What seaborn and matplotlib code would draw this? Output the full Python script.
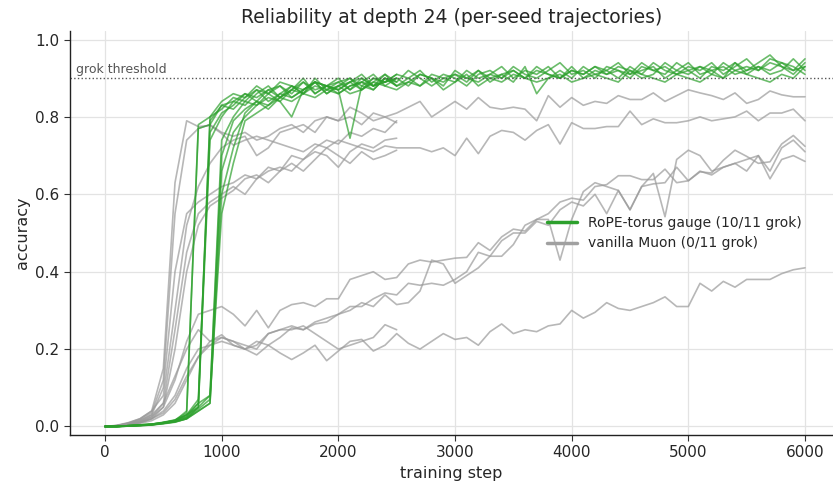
import matplotlib
matplotlib.use("Agg")
import matplotlib.pyplot as plt
from matplotlib.lines import Line2D
import seaborn as sns
import pandas as pd

# ---------------- data ----------------
steps_long = list(range(0, 6001, 100))
steps_short = list(range(0, 2501, 100))

# RoPE-torus gauge seeds running to 6000 steps
rope_1 = [0, 0, 0.002, 0.004, 0.006, 0.01, 0.015, 0.04, 0.77, 0.78,
          0.83, 0.84, 0.86, 0.85, 0.87, 0.88, 0.86, 0.89, 0.87, 0.88,
          0.89, 0.87, 0.90, 0.88, 0.89, 0.91, 0.90, 0.88, 0.91, 0.90,
          0.89, 0.92, 0.90, 0.91, 0.93, 0.90, 0.92, 0.91, 0.93, 0.90,
          0.92, 0.91, 0.93, 0.92, 0.90, 0.93, 0.91, 0.94, 0.92, 0.91,
          0.93, 0.92, 0.94, 0.91, 0.93, 0.95, 0.92, 0.94, 0.93, 0.91,
          0.94]
rope_2 = [0, 0, 0.001, 0.003, 0.005, 0.008, 0.012, 0.02, 0.05, 0.74,
          0.80, 0.84, 0.83, 0.86, 0.88, 0.85, 0.87, 0.90, 0.86, 0.88,
          0.87, 0.89, 0.91, 0.88, 0.90, 0.89, 0.92, 0.90, 0.88, 0.90,
          0.91, 0.89, 0.92, 0.90, 0.91, 0.89, 0.93, 0.86, 0.90, 0.92,
          0.90, 0.93, 0.91, 0.92, 0.94, 0.91, 0.92, 0.93, 0.90, 0.92,
          0.94, 0.91, 0.92, 0.93, 0.91, 0.92, 0.94, 0.96, 0.93, 0.92,
          0.95]
rope_3 = [0, 0, 0.002, 0.003, 0.004, 0.009, 0.014, 0.025, 0.06, 0.08,
          0.70, 0.79, 0.82, 0.84, 0.83, 0.86, 0.85, 0.87, 0.89, 0.86,
          0.88, 0.90, 0.87, 0.89, 0.91, 0.88, 0.90, 0.92, 0.89, 0.91,
          0.90, 0.88, 0.91, 0.92, 0.90, 0.93, 0.91, 0.90, 0.92, 0.94,
          0.91, 0.92, 0.90, 0.93, 0.92, 0.91, 0.94, 0.92, 0.93, 0.91,
          0.92, 0.93, 0.91, 0.94, 0.92, 0.93, 0.92, 0.95, 0.94, 0.92,
          0.93]
rope_4 = [0, 0, 0.001, 0.002, 0.004, 0.007, 0.011, 0.02, 0.04, 0.06,
          0.66, 0.76, 0.80, 0.83, 0.85, 0.84, 0.87, 0.86, 0.88, 0.87,
          0.86, 0.88, 0.89, 0.87, 0.90, 0.88, 0.89, 0.91, 0.90, 0.88,
          0.92, 0.90, 0.89, 0.91, 0.90, 0.92, 0.90, 0.92, 0.91, 0.90,
          0.93, 0.90, 0.92, 0.91, 0.93, 0.92, 0.90, 0.91, 0.94, 0.92,
          0.91, 0.93, 0.92, 0.90, 0.94, 0.92, 0.93, 0.91, 0.92, 0.95,
          0.92]
rope_5 = [0, 0, 0.002, 0.004, 0.006, 0.01, 0.016, 0.03, 0.05, 0.80,
          0.82, 0.85, 0.84, 0.87, 0.86, 0.89, 0.88, 0.86, 0.89, 0.88,
          0.87, 0.745, 0.88, 0.90, 0.89, 0.90, 0.88, 0.91, 0.90, 0.89,
          0.91, 0.90, 0.92, 0.89, 0.91, 0.92, 0.90, 0.93, 0.91, 0.90,
          0.92, 0.91, 0.93, 0.91, 0.92, 0.90, 0.93, 0.92, 0.91, 0.94,
          0.92, 0.90, 0.93, 0.92, 0.94, 0.91, 0.93, 0.92, 0.94, 0.93,
          0.91]
rope_6 = [0, 0, 0.001, 0.003, 0.005, 0.008, 0.013, 0.022, 0.045, 0.07,
          0.55, 0.68, 0.79, 0.81, 0.83, 0.85, 0.84, 0.86, 0.85, 0.87,
          0.88, 0.86, 0.87, 0.89, 0.88, 0.87, 0.89, 0.88, 0.90, 0.87,
          0.89, 0.91, 0.88, 0.90, 0.89, 0.91, 0.90, 0.89, 0.90, 0.91,
          0.89, 0.90, 0.91, 0.90, 0.89, 0.92, 0.91, 0.90, 0.89, 0.91,
          0.90, 0.89, 0.91, 0.90, 0.92, 0.91, 0.90, 0.89, 0.91, 0.90,
          0.93]
# RoPE-torus gauge seeds stopped at 2500 steps
rope_7 = [0, 0, 0.002, 0.004, 0.006, 0.01, 0.015, 0.03, 0.07, 0.76,
          0.81, 0.83, 0.86, 0.84, 0.87, 0.85, 0.88, 0.87, 0.89, 0.86,
          0.88, 0.89, 0.87, 0.90, 0.89, 0.91]
rope_8 = [0, 0, 0.001, 0.003, 0.005, 0.009, 0.014, 0.025, 0.05, 0.08,
          0.74, 0.80, 0.84, 0.83, 0.86, 0.88, 0.85, 0.87, 0.89, 0.88,
          0.90, 0.87, 0.89, 0.88, 0.91, 0.89]
rope_9 = [0, 0, 0.002, 0.003, 0.005, 0.01, 0.016, 0.03, 0.06, 0.79,
          0.83, 0.82, 0.85, 0.87, 0.84, 0.86, 0.88, 0.86, 0.90, 0.87,
          0.89, 0.90, 0.88, 0.87, 0.90, 0.88]
rope_10 = [0, 0, 0.001, 0.002, 0.004, 0.008, 0.012, 0.02, 0.04, 0.06,
           0.60, 0.72, 0.81, 0.84, 0.82, 0.85, 0.87, 0.89, 0.86, 0.88,
           0.87, 0.89, 0.90, 0.88, 0.89, 0.90]
rope_11 = [0, 0, 0.002, 0.004, 0.006, 0.011, 0.017, 0.035, 0.78, 0.80,
           0.84, 0.86, 0.85, 0.88, 0.86, 0.84, 0.80, 0.87, 0.89, 0.88,
           0.86, 0.88, 0.89, 0.91, 0.88, 0.90]

# vanilla Muon seeds running to 6000 steps
muon_1 = [0, 0.002, 0.008, 0.018, 0.035, 0.12, 0.55, 0.74, 0.77, 0.78,
          0.76, 0.75, 0.76, 0.74, 0.75, 0.77, 0.78, 0.76, 0.79, 0.80,
          0.79, 0.80, 0.78, 0.81, 0.80, 0.81, 0.825, 0.84, 0.80, 0.82,
          0.84, 0.82, 0.85, 0.825, 0.82, 0.825, 0.82, 0.79, 0.855, 0.825,
          0.85, 0.83, 0.84, 0.835, 0.855, 0.845, 0.845, 0.862, 0.84, 0.855,
          0.87, 0.862, 0.855, 0.845, 0.862, 0.835, 0.845, 0.867, 0.857, 0.852,
          0.852]
muon_2 = [0, 0.003, 0.01, 0.02, 0.04, 0.15, 0.63, 0.79, 0.775, 0.778,
          0.757, 0.727, 0.74, 0.75, 0.74, 0.73, 0.72, 0.71, 0.73, 0.72,
          0.74, 0.73, 0.72, 0.71, 0.725, 0.72, 0.72, 0.72, 0.71, 0.72,
          0.70, 0.745, 0.705, 0.75, 0.765, 0.76, 0.74, 0.765, 0.78, 0.73,
          0.785, 0.77, 0.77, 0.775, 0.775, 0.815, 0.78, 0.795, 0.785, 0.785,
          0.79, 0.80, 0.79, 0.795, 0.80, 0.815, 0.79, 0.81, 0.81, 0.82,
          0.79]
muon_3 = [0, 0.002, 0.006, 0.012, 0.025, 0.05, 0.12, 0.22, 0.29, 0.30,
          0.31, 0.29, 0.26, 0.30, 0.255, 0.30, 0.315, 0.32, 0.31, 0.33,
          0.33, 0.38, 0.39, 0.40, 0.38, 0.385, 0.42, 0.43, 0.425, 0.43,
          0.435, 0.437, 0.475, 0.455, 0.49, 0.51, 0.505, 0.535, 0.55, 0.58,
          0.59, 0.585, 0.62, 0.625, 0.648, 0.648, 0.638, 0.638, 0.665, 0.63,
          0.635, 0.658, 0.655, 0.688, 0.714, 0.698, 0.68, 0.684, 0.73, 0.752,
          0.724]
muon_4 = [0, 0.001, 0.005, 0.01, 0.02, 0.04, 0.08, 0.15, 0.20, 0.21,
          0.22, 0.21, 0.20, 0.22, 0.21, 0.23, 0.255, 0.25, 0.27, 0.28,
          0.29, 0.31, 0.31, 0.33, 0.345, 0.34, 0.37, 0.365, 0.37, 0.365,
          0.38, 0.40, 0.45, 0.44, 0.44, 0.47, 0.52, 0.535, 0.535, 0.43,
          0.535, 0.607, 0.63, 0.62, 0.61, 0.56, 0.62, 0.654, 0.542, 0.69,
          0.714, 0.70, 0.66, 0.67, 0.68, 0.69, 0.70, 0.66, 0.72, 0.74,
          0.71]
muon_5 = [0, 0.001, 0.004, 0.01, 0.02, 0.035, 0.07, 0.13, 0.18, 0.21,
          0.23, 0.22, 0.21, 0.20, 0.24, 0.25, 0.26, 0.25, 0.265, 0.27,
          0.29, 0.30, 0.32, 0.31, 0.34, 0.315, 0.32, 0.35, 0.43, 0.42,
          0.37, 0.39, 0.41, 0.44, 0.48, 0.50, 0.50, 0.53, 0.52, 0.56,
          0.58, 0.57, 0.60, 0.55, 0.61, 0.56, 0.62, 0.627, 0.63, 0.67,
          0.635, 0.66, 0.65, 0.67, 0.68, 0.66, 0.70, 0.64, 0.69, 0.70,
          0.685]
muon_6 = [0, 0.001, 0.004, 0.008, 0.015, 0.03, 0.06, 0.12, 0.18, 0.22,
          0.237, 0.21, 0.20, 0.185, 0.21, 0.19, 0.173, 0.19, 0.21, 0.17,
          0.195, 0.22, 0.225, 0.195, 0.21, 0.24, 0.215, 0.20, 0.22, 0.24,
          0.225, 0.23, 0.21, 0.245, 0.265, 0.24, 0.25, 0.245, 0.26, 0.265,
          0.30, 0.28, 0.295, 0.32, 0.305, 0.30, 0.31, 0.32, 0.335, 0.31,
          0.31, 0.37, 0.35, 0.375, 0.36, 0.38, 0.38, 0.38, 0.395, 0.405,
          0.41]
# vanilla Muon seeds stopped at 2500 steps
muon_7 = [0, 0.002, 0.008, 0.015, 0.03, 0.10, 0.40, 0.55, 0.58, 0.60,
          0.62, 0.63, 0.65, 0.64, 0.67, 0.66, 0.70, 0.69, 0.72, 0.74,
          0.73, 0.76, 0.75, 0.77, 0.76, 0.79]
muon_8 = [0, 0.001, 0.006, 0.012, 0.025, 0.06, 0.25, 0.45, 0.55, 0.58,
          0.60, 0.62, 0.60, 0.64, 0.66, 0.67, 0.66, 0.69, 0.71, 0.70,
          0.67, 0.71, 0.73, 0.72, 0.74, 0.745]
muon_9 = [0, 0.002, 0.009, 0.02, 0.04, 0.08, 0.30, 0.52, 0.62, 0.68,
          0.72, 0.74, 0.75, 0.70, 0.72, 0.76, 0.77, 0.78, 0.76, 0.80,
          0.79, 0.825, 0.81, 0.79, 0.80, 0.785]
muon_10 = [0, 0.001, 0.005, 0.01, 0.02, 0.05, 0.20, 0.40, 0.52, 0.57,
           0.59, 0.61, 0.64, 0.65, 0.63, 0.66, 0.68, 0.66, 0.69, 0.72,
           0.70, 0.68, 0.71, 0.69, 0.70, 0.714]
muon_11 = [0, 0.002, 0.007, 0.015, 0.03, 0.06, 0.13, 0.20, 0.25, 0.22,
           0.23, 0.22, 0.20, 0.21, 0.24, 0.25, 0.25, 0.26, 0.24, 0.22,
           0.20, 0.21, 0.22, 0.23, 0.263, 0.25]

rope_label = "RoPE-torus gauge (10/11 grok)"
muon_label = "vanilla Muon (0/11 grok)"
grok_threshold = 0.9

rope_runs = [rope_1, rope_2, rope_3, rope_4, rope_5, rope_6,
             rope_7, rope_8, rope_9, rope_10, rope_11]
muon_runs = [muon_1, muon_2, muon_3, muon_4, muon_5, muon_6,
             muon_7, muon_8, muon_9, muon_10, muon_11]

# ---------------- build long table ----------------
rows = []
for method, runs in ((muon_label, muon_runs), (rope_label, rope_runs)):
    for i, vals in enumerate(runs):
        st = steps_long if len(vals) == len(steps_long) else steps_short
        assert len(vals) == len(st), (method, i, len(vals))
        for s, v in zip(st, vals):
            rows.append({"method": method, "seed": i, "step": s, "accuracy": v})
df = pd.DataFrame(rows)

# ---------------- plot ----------------
sns.set_style("white")
plt.rcParams["font.family"] = ["DejaVu Sans"]

fig = plt.figure(figsize=(8.33, 4.86), dpi=100)
ax = fig.add_axes([70 / 833, 51 / 486, 763 / 833, 404 / 486])

green = "#2ca02c"
gray = "#999999"

sns.lineplot(data=df[df.method == muon_label], x="step", y="accuracy",
             units="seed", estimator=None, color=gray, alpha=0.7,
             linewidth=1.2, ax=ax, legend=False)
sns.lineplot(data=df[df.method == rope_label], x="step", y="accuracy",
             units="seed", estimator=None, color=green, alpha=0.7,
             linewidth=1.2, ax=ax, legend=False)

ax.axhline(grok_threshold, color="#555555", linestyle=":", linewidth=1.0)
ax.text(-250, grok_threshold + 0.006, "grok threshold", fontsize=9,
        color="#555555", ha="left", va="bottom")

ax.set_xlim(-300, 6240)
ax.set_ylim(-0.022, 1.022)
ax.set_xticks([0, 1000, 2000, 3000, 4000, 5000, 6000])
ax.set_yticks([0.0, 0.2, 0.4, 0.6, 0.8, 1.0])
ax.tick_params(axis="both", labelsize=11, length=4, color="#333333",
               direction="out", left=True, bottom=True)
ax.grid(True, color="#e3e3e3", linewidth=0.9)
ax.set_axisbelow(True)
for side in ("top", "right"):
    ax.spines[side].set_visible(False)
for side in ("left", "bottom"):
    ax.spines[side].set_color("#222222")
    ax.spines[side].set_linewidth(1.0)

ax.set_xlabel("training step", fontsize=11.5)
ax.set_ylabel("accuracy", fontsize=11.5)
ax.set_title("Reliability at depth 24 (per-seed trajectories)", fontsize=13.5)

handles = [Line2D([0], [0], color=green, linewidth=2.5),
           Line2D([0], [0], color="#a0a0a0", linewidth=2.5)]
ax.legend(handles, [rope_label, muon_label], loc="center right",
          bbox_to_anchor=(0.976, 0.5), frameon=False, fontsize=10,
          handlelength=2.2)

fig.savefig("out.png", dpi=100)
